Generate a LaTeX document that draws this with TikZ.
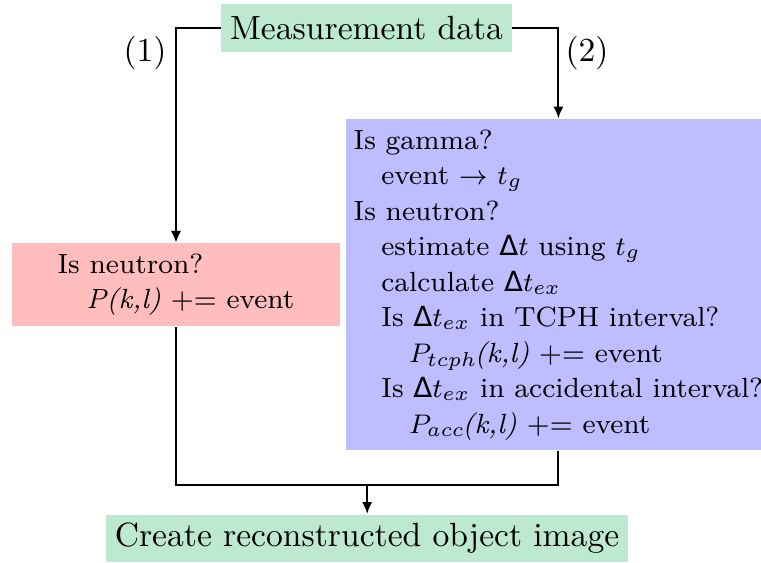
\documentclass[tikz,border=0pt]{standalone}
\usepackage{fontspec}
\newfontfamily\deltafont{DejaVu Sans}
\newcommand{\dlt}{\text{\deltafont Δ}}
\newcommand{\kl}{\kern-0.8pt\textit{(k,l)}}
\definecolor{MDgreen}{RGB}{189,233,208}
\definecolor{MDred}{RGB}{255,189,189}
\definecolor{MDblue}{RGB}{189,189,255}
\usepackage{amsmath}
\usetikzlibrary{arrows.meta, calc, positioning}

\begin{document}
\begin{tikzpicture}[
      greenbox/.style={fill=MDgreen, inner xsep=2.6pt, inner ysep=2pt, minimum height=14.2pt},
      box/.style={inner sep=3.1pt, align=left, font=\fontsize{8.25}{10.57}\selectfont},
      redbox/.style={box, fill=MDred, minimum width=3.43cm, minimum height=0.8cm},
      bluebox/.style={box, fill=MDblue, inner xsep=2.2pt},
      flow/.style={-{Latex[length=3.5pt, width=3pt]}, semithick}]
            \useasboundingbox (0,0) rectangle (7.96,5.889);
            % Boxes
            \node[greenbox] (data) at (3.834,5.594) {Measurement data};
            \node[redbox] (simple) at (1.841,2.91) {Is neutron?\\
               \hspace*{3mm}\textit{P(k,l)} += event};
            \node[bluebox, anchor=west] (tcph) at (3.615,2.91) {Is gamma?\\
               \hspace*{2.9mm}event $\rightarrow$ $t_g$\\
               Is neutron?\\
               \hspace*{2.9mm}estimate $\dlt t$ using $t_g$\\
               \hspace*{2.9mm}calculate $\dlt t_{ex}$\\
               \hspace*{2.9mm}Is $\dlt t_{ex}$ in TCPH interval?\\
               \hspace*{5.8mm}$P_{tcph}$\kl{} += event\\
               \hspace*{2.9mm}Is $\dlt t_{ex}$ in accidental interval?\\
               \hspace*{5.8mm}$P_{acc}$\kl{} += event};
            \node[greenbox, anchor=south] (image) at (3.839,0) {Create reconstructed object image};
            % Branch labels
            \node (lab1) at (1.517,5.33) {(1)};
            \node (lab2) at (6.140,5.33) {(2)};
            % Connectors
            \draw[flow] (data.west) -| (simple.north);
            \draw[flow] (data.east) -| (tcph.north);
            \coordinate (join) at ($(simple.south)!0.5!(tcph.south)$);
            \coordinate (merge) at (join |- 0,0.816);
            \draw[semithick] (simple.south) |- (merge) -| (tcph.south);
            \draw[flow] (merge) -- (merge |- image.north);
\end{tikzpicture}
\end{document}
